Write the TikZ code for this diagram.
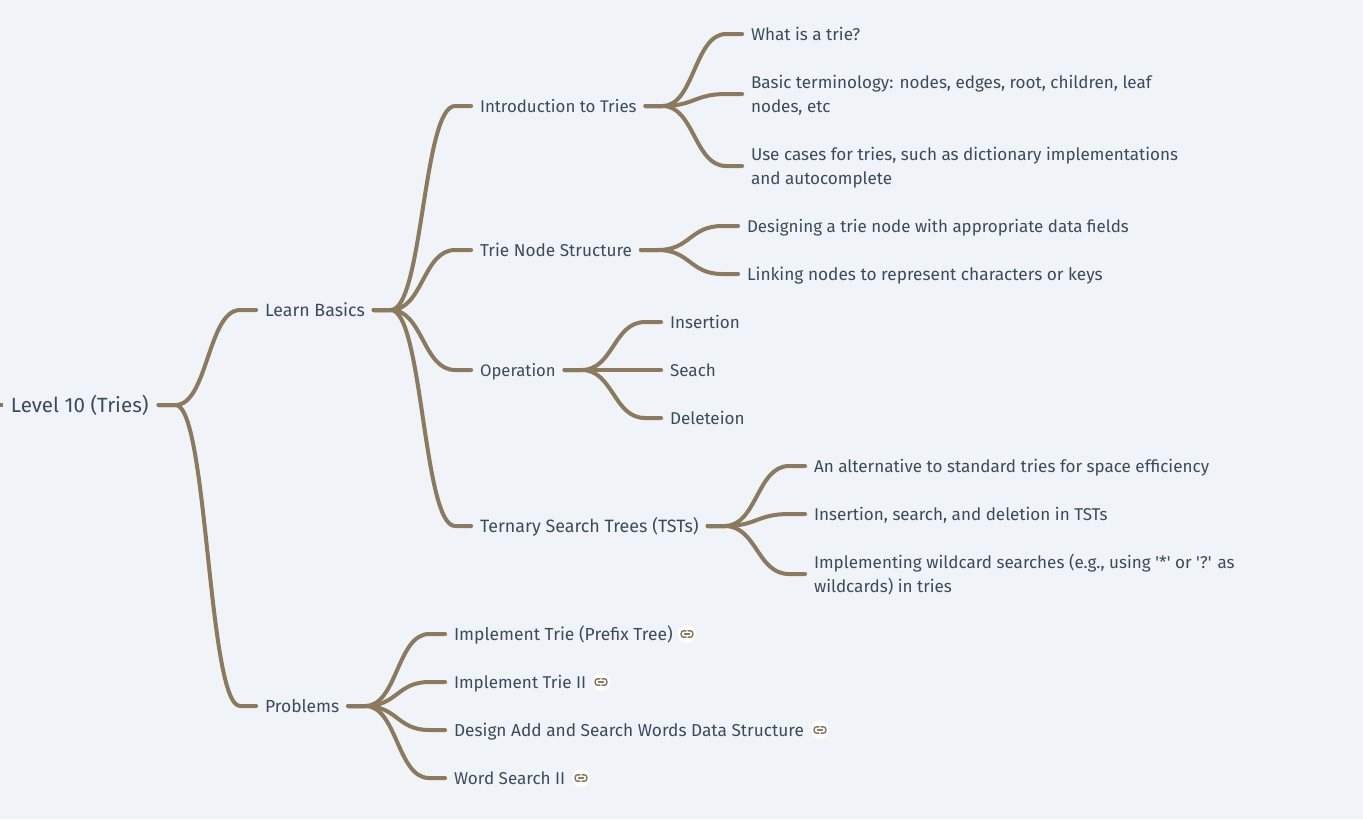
\documentclass[tikz,border=0pt]{standalone}
\usepackage{fontspec}
\setmainfont{Fira Sans}[Ligatures=TeXOff]
\usetikzlibrary{calc}
\definecolor{pagebg}{HTML}{F0F4F8}
\definecolor{branchcol}{HTML}{8B7A5E}
\definecolor{labelcol}{HTML}{3B4A5C}
\newcommand{\firstline}{\rule{0pt}{13.5pt}}
\newcommand{\lastline}{\rule[-4.5pt]{0pt}{4.5pt}}
\tikzset{
  fsize/.style={font=\fontsize{#1}{18}\selectfont},
  topic/.style={anchor=west, inner sep=0pt, outer xsep=6.7pt, text=labelcol,
    align=left, fsize=12.8, text height=11pt, text depth=1.5pt},
  twolines/.style={text height=, text depth=},
  roottopic/.style={topic, fsize=15.45, outer xsep=7.5pt, text height=11.75pt, text depth=.75pt},
  branchline/.style={draw=branchcol, line width=3pt, line cap=round},
  linkdot/.style={circle, fill=white, inner sep=0pt, minimum size=13.5pt},
  linkglyph/.pic={
    \draw[branchcol, line width=1.1pt, line cap=round, rounded corners=1.8pt]
      (-1,-3.2) -- (-5.8,-3.2) -- (-5.8,3.2) -- (-1,3.2)
      (1,-3.2) -- (5.8,-3.2) -- (5.8,3.2) -- (1,3.2);
    \draw[branchcol, line width=1.1pt, line cap=round] (-2.5,0) -- (2.5,0);
  }
}
\newcommand{\branch}[2]{
  \coordinate (bs) at ($(#1.east)+(17,0)$);
  \coordinate (be) at ($(#2.west)+(-16,0)$);
  \coordinate (bm) at ($(bs)!.5!(be)$);
  \draw[branchline] (#1.east) -- (bs) .. controls (bm |- bs) and (bm |- be) .. (be) -- (#2.west);
}
\begin{document}
\begin{tikzpicture}[x=.75pt, y=-.75pt]
  \useasboundingbox[fill=pagebg] (0,0) rectangle (1363,819);
  \node[roottopic] (root) at (1,405) {Level 10 (Tries)};
  \node[topic, fsize=13.3] (basics) at (256.1,310) {Learn Basics};
  \node[topic, fsize=13.1] (problems) at (256.1,706) {Problems};
  \node[topic, fsize=12.65] (intro) at (471.1,106) {Introduction to Tries};
  \node[topic, fsize=12.9] (structure) at (471.1,250) {Trie Node Structure};
  \node[topic, fsize=12.5] (operation) at (471.1,370) {Operation};
  \node[topic, fsize=13.4] (ternary) at (471.1,526) {Ternary Search Trees (TSTs)};
  \node[topic] (what) at (742.1,34) {What is a trie?};
  \node[topic, twolines] (terms) at (742.1,94) {\firstline Basic terminology: nodes, edges, root, children, leaf\\nodes, etc\lastline};
  \node[topic, twolines] (uses) at (742.1,166) {\firstline Use cases for tries, such as dictionary implementations\\and autocomplete\lastline};
  \node[topic, fsize=12.7] (design) at (738.1,226) {Designing a trie node with appropriate data fields};
  \node[topic, fsize=12.95] (linking) at (738.1,274) {Linking nodes to represent characters or keys};
  \node[topic] (insertion) at (661.1,322) {Insertion};
  \node[topic] (seach) at (661.1,370) {Seach};
  \node[topic] (deleteion) at (661.1,418) {Deleteion};
  \node[topic] (space) at (805.1,466) {An alternative to standard tries for space efficiency};
  \node[topic] (tstops) at (805.1,514) {Insertion, search, and deletion in TSTs};
  \node[topic, twolines] (wild) at (805.1,574) {\firstline Implementing wildcard searches (e.g., using '*' or '?' as\\wildcards) in tries\lastline};
  \node[topic, fsize=13.1] (prob1) at (445.1,634) {Implement Trie (Prefix Tree)};
  \node[topic] (prob2) at (445.1,682) {Implement Trie II};
  \node[topic, fsize=12.95] (prob3) at (445.1,730) {Design Add and Search Words Data Structure};
  \node[topic] (prob4) at (445.1,778) {Word Search II};
  \foreach \a/\b in {root/basics, root/problems, basics/intro, basics/structure,
    basics/operation, basics/ternary, intro/what, intro/terms, intro/uses,
    structure/design, structure/linking, operation/insertion, operation/seach,
    operation/deleteion, ternary/space, ternary/tstops, ternary/wild,
    problems/prob1, problems/prob2, problems/prob3, problems/prob4}
    {\branch{\a}{\b}}
  \coordinate (stubl) at (0,405);
  \coordinate (stubr) at (2.5,405);
  \draw[draw=branchcol, line width=3pt] (stubl) -- (stubr);
  \foreach \n/\x/\y in {link1/687/634, link2/601/682, link3/820/730, link4/581/778} {
    \node[linkdot] (\n) at (\x,\y) {};
    \pic at (\n) {linkglyph};
  }
\end{tikzpicture}
\end{document}
